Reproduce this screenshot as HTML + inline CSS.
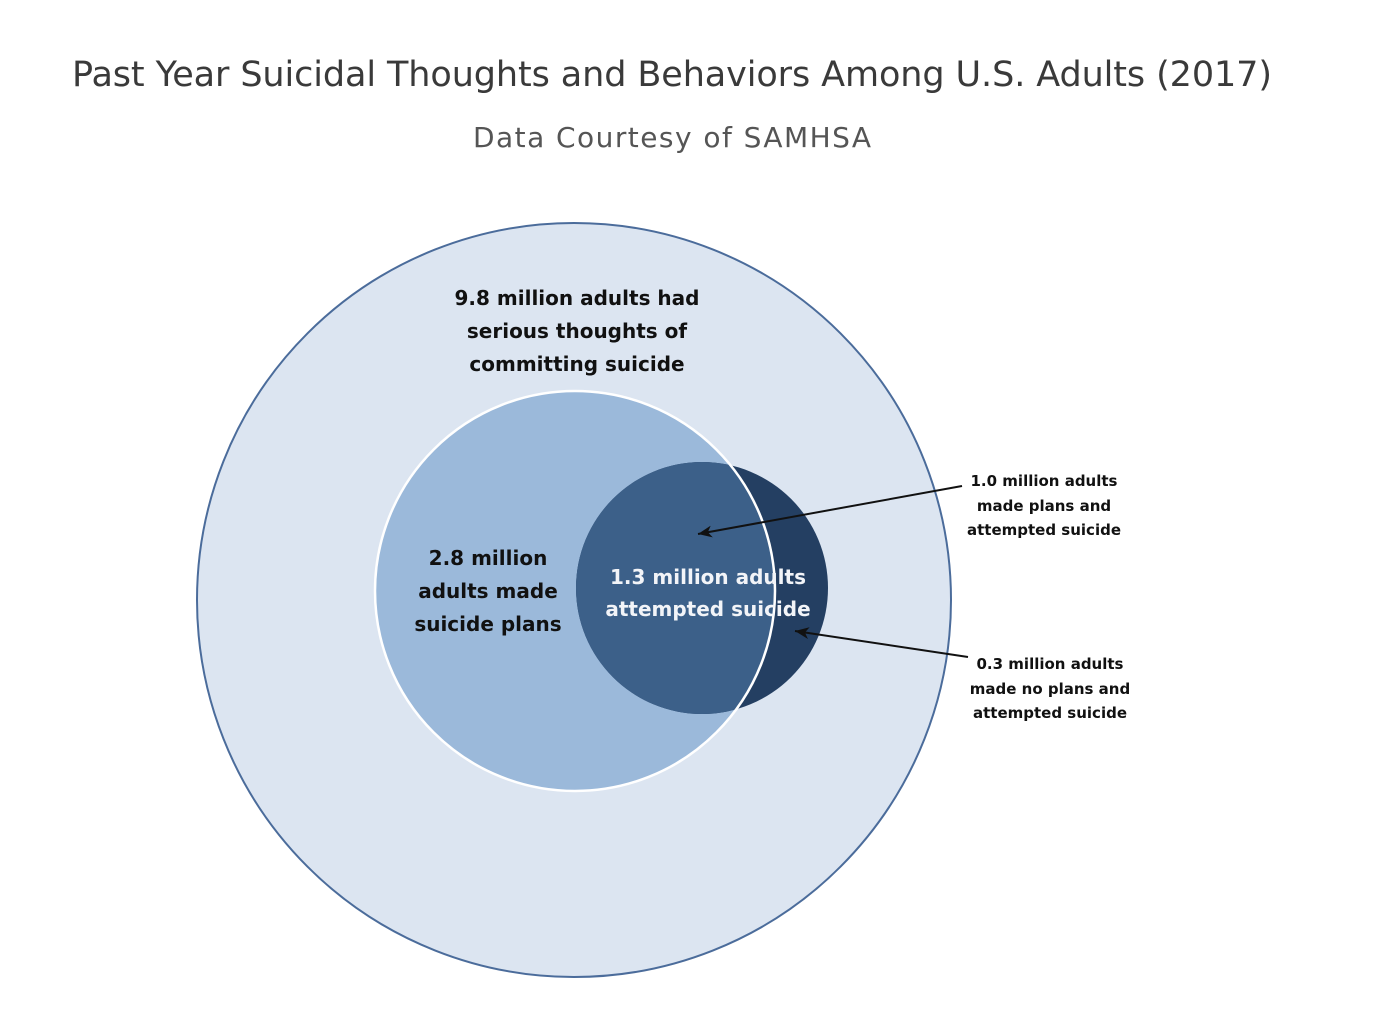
<!DOCTYPE html>
<html><head><meta charset="utf-8"><style>
html,body{margin:0;padding:0;background:#fff;}
svg{display:block;}
</style></head><body>
<svg width="1374" height="1036" viewBox="0 0 1374 1036" xmlns="http://www.w3.org/2000/svg">
<defs>
<clipPath id="med"><circle cx="575" cy="591" r="200"/></clipPath>
<marker id="ah" markerWidth="14" markerHeight="12" refX="14" refY="6" orient="auto" markerUnits="userSpaceOnUse">
<path d="M0,0 L14,6 L0,12 L4,6 Z" fill="#111"/>
</marker>
</defs>
<text x="672" y="86" text-anchor="middle" font-family="DejaVu Sans, sans-serif" font-size="35" fill="#3a3a3a" textLength="1200">Past Year Suicidal Thoughts and Behaviors Among U.S. Adults (2017)</text>
<text x="672" y="147" text-anchor="middle" font-family="DejaVu Sans, sans-serif" font-size="28" fill="#555" textLength="398">Data Courtesy of SAMHSA</text>
<circle cx="574" cy="600" r="377" fill="#dce5f1" stroke="#4b6c9b" stroke-width="2"/>
<circle cx="575" cy="591" r="200" fill="#9bb9da"/>
<circle cx="702" cy="588" r="126" fill="#243f62"/>
<circle cx="702" cy="588" r="126" fill="#3c6089" clip-path="url(#med)"/>
<circle cx="575" cy="591" r="200" fill="none" stroke="#fff" stroke-width="2.5"/>
<g font-family="DejaVu Sans, sans-serif" font-weight="bold" font-size="20" fill="#111" text-anchor="middle">
<text x="577" y="305">9.8 million adults had</text>
<text x="577" y="338">serious thoughts of</text>
<text x="577" y="371">committing suicide</text>
<text x="488" y="565">2.8 million</text>
<text x="488" y="598">adults made</text>
<text x="488" y="631">suicide plans</text>
</g>
<g font-family="DejaVu Sans, sans-serif" font-weight="bold" font-size="20" fill="#f2f4f8" text-anchor="middle">
<text x="708" y="584">1.3 million adults</text>
<text x="708" y="616">attempted suicide</text>
</g>
<line x1="962" y1="486" x2="698" y2="534" stroke="#111" stroke-width="2" marker-end="url(#ah)"/>
<line x1="968" y1="657" x2="795" y2="631" stroke="#111" stroke-width="2" marker-end="url(#ah)"/>
<g font-family="DejaVu Sans, sans-serif" font-weight="bold" font-size="15" fill="#111" text-anchor="middle">
<text x="1044" y="486">1.0 million adults</text>
<text x="1044" y="511">made plans and</text>
<text x="1044" y="535">attempted suicide</text>
<text x="1050" y="669">0.3 million adults</text>
<text x="1050" y="694">made no plans and</text>
<text x="1050" y="718">attempted suicide</text>
</g>
</svg>
</body></html>
